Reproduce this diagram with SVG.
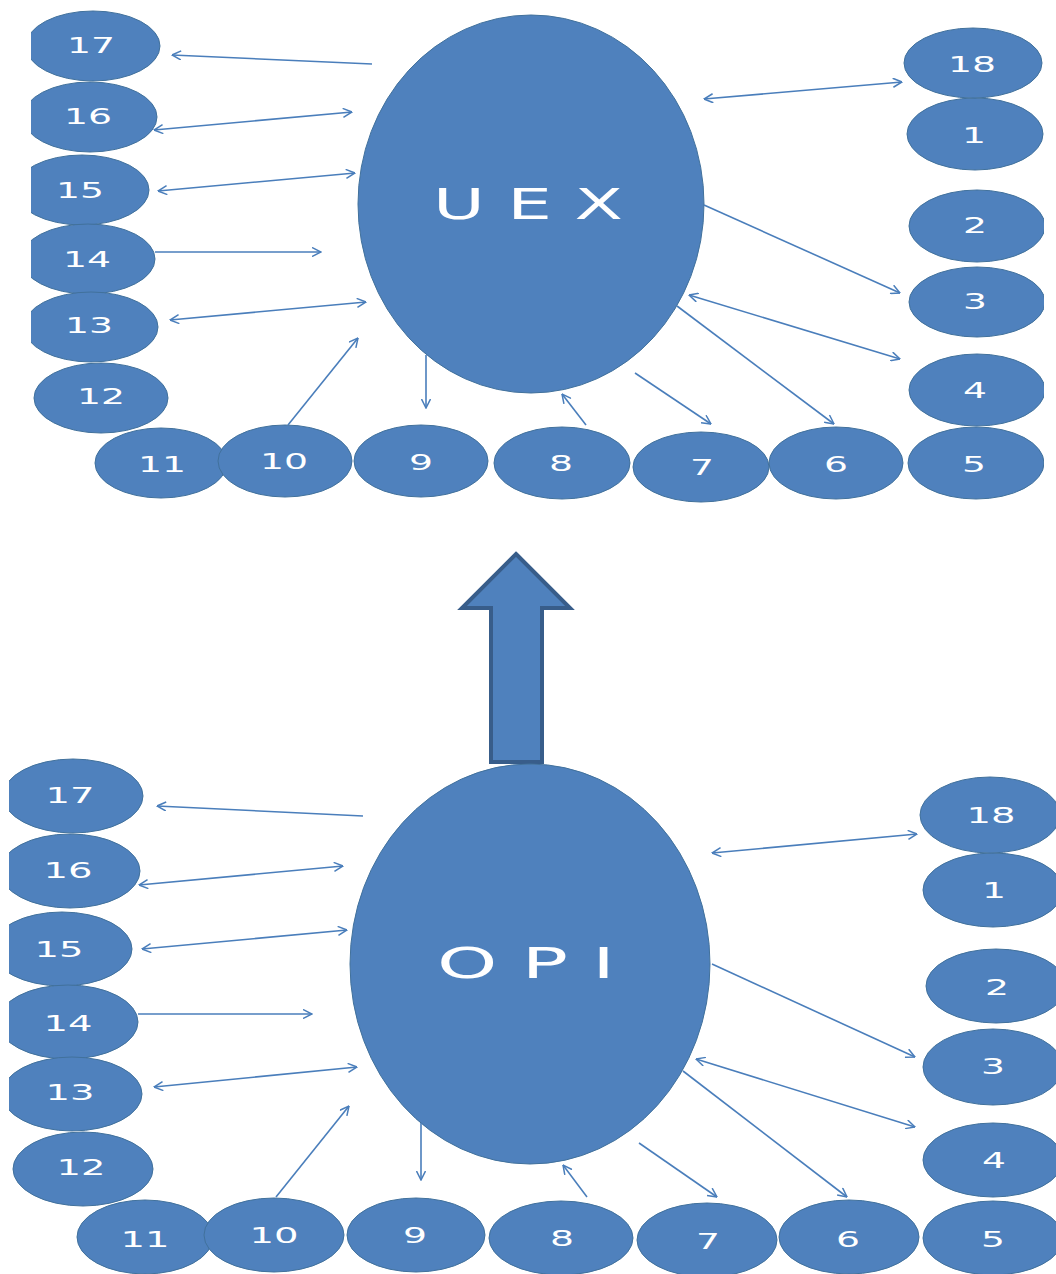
<svg xmlns="http://www.w3.org/2000/svg" width="1056" height="1274" viewBox="0 0 1056 1274">
<style>
.n { fill: #4f81bd; stroke: #41719c; stroke-width: 1; }
.lbl { font-family: "DejaVu Sans", Verdana, sans-serif; font-size: 21px; fill: #ffffff; text-anchor: middle; }
.big { font-family: "DejaVu Sans", Verdana, sans-serif; font-size: 42px; fill: #ffffff; text-anchor: middle; }
.c { fill: none; stroke: #4a7ebb; stroke-width: 1.6; }
.ce { marker-end: url(#ah); }
.cb { marker-start: url(#ah); marker-end: url(#ah); }
</style>
<defs>
<marker id="ah" viewBox="0 0 10 10" refX="9.5" refY="5" markerWidth="10" markerHeight="10" markerUnits="userSpaceOnUse" orient="auto-start-reverse">
<path d="M0.5,0.5 L9.5,5 L0.5,9.5" fill="none" stroke="#4a7ebb" stroke-width="1.5"/>
</marker>
<clipPath id="clipTop"><rect x="31" y="0" width="1013" height="530"/></clipPath>
<clipPath id="clipBot"><rect x="9" y="530" width="1047" height="744"/></clipPath>
</defs>
<rect x="0" y="0" width="1056" height="1274" fill="#ffffff"/>

<g id="top-diagram" clip-path="url(#clipTop)">
<g id="uex"><ellipse class="n" cx="531" cy="204" rx="173" ry="189"/><text class="big" x="528" y="219" textLength="190" lengthAdjust="spacingAndGlyphs">U E X</text></g>
<g id="t17"><ellipse class="n" cx="93" cy="46" rx="67" ry="35"/><text class="lbl" x="91" y="53" textLength="48" lengthAdjust="spacingAndGlyphs">17</text></g>
<g id="t16"><ellipse class="n" cx="90" cy="117" rx="67" ry="35"/><text class="lbl" x="88" y="124" textLength="48" lengthAdjust="spacingAndGlyphs">16</text></g>
<g id="t15"><ellipse class="n" cx="82" cy="190" rx="67" ry="35"/><text class="lbl" x="80" y="198" textLength="48" lengthAdjust="spacingAndGlyphs">15</text></g>
<g id="t14"><ellipse class="n" cx="88" cy="259" rx="67" ry="35"/><text class="lbl" x="87" y="267" textLength="48" lengthAdjust="spacingAndGlyphs">14</text></g>
<g id="t13"><ellipse class="n" cx="91" cy="327" rx="67" ry="35"/><text class="lbl" x="89" y="333" textLength="48" lengthAdjust="spacingAndGlyphs">13</text></g>
<g id="t12"><ellipse class="n" cx="101" cy="398" rx="67" ry="35"/><text class="lbl" x="101" y="404" textLength="48" lengthAdjust="spacingAndGlyphs">12</text></g>
<g id="t11"><ellipse class="n" cx="161" cy="463" rx="66" ry="35"/><text class="lbl" x="162" y="472" textLength="48" lengthAdjust="spacingAndGlyphs">11</text></g>
<g id="t10"><ellipse class="n" cx="285" cy="461" rx="67" ry="36"/><text class="lbl" x="284" y="469" textLength="48" lengthAdjust="spacingAndGlyphs">10</text></g>
<g id="t9"><ellipse class="n" cx="421" cy="461" rx="67" ry="36"/><text class="lbl" x="421" y="470" textLength="24" lengthAdjust="spacingAndGlyphs">9</text></g>
<g id="t8"><ellipse class="n" cx="562" cy="463" rx="68" ry="36"/><text class="lbl" x="561" y="471" textLength="24" lengthAdjust="spacingAndGlyphs">8</text></g>
<g id="t7"><ellipse class="n" cx="701" cy="467" rx="68" ry="35"/><text class="lbl" x="702" y="475" textLength="24" lengthAdjust="spacingAndGlyphs">7</text></g>
<g id="t6"><ellipse class="n" cx="836" cy="463" rx="67" ry="36"/><text class="lbl" x="836" y="472" textLength="24" lengthAdjust="spacingAndGlyphs">6</text></g>
<g id="t5"><ellipse class="n" cx="976" cy="463" rx="68" ry="36"/><text class="lbl" x="974" y="472" textLength="24" lengthAdjust="spacingAndGlyphs">5</text></g>
<g id="t4"><ellipse class="n" cx="977" cy="390" rx="68" ry="36"/><text class="lbl" x="975" y="398" textLength="24" lengthAdjust="spacingAndGlyphs">4</text></g>
<g id="t3"><ellipse class="n" cx="977" cy="302" rx="68" ry="35"/><text class="lbl" x="975" y="309" textLength="24" lengthAdjust="spacingAndGlyphs">3</text></g>
<g id="t2"><ellipse class="n" cx="977" cy="226" rx="68" ry="36"/><text class="lbl" x="975" y="233" textLength="24" lengthAdjust="spacingAndGlyphs">2</text></g>
<g id="t1"><ellipse class="n" cx="975" cy="134" rx="68" ry="36"/><text class="lbl" x="974" y="143" textLength="24" lengthAdjust="spacingAndGlyphs">1</text></g>
<g id="t18"><ellipse class="n" cx="973" cy="63" rx="69" ry="35"/><text class="lbl" x="972" y="72" textLength="48" lengthAdjust="spacingAndGlyphs">18</text></g>
<g id="top-connectors">
<line class="c ce" x1="372" y1="64" x2="172" y2="55"/>
<line class="c cb" x1="154" y1="130" x2="352" y2="112"/>
<line class="c cb" x1="158" y1="191" x2="355" y2="173"/>
<line class="c ce" x1="155" y1="252" x2="321" y2="252"/>
<line class="c cb" x1="170" y1="320" x2="366" y2="302"/>
<line class="c ce" x1="288" y1="425" x2="358" y2="338"/>
<line class="c ce" x1="426" y1="355" x2="426" y2="408"/>
<line class="c ce" x1="586" y1="425" x2="562" y2="394"/>
<line class="c ce" x1="635" y1="373" x2="711" y2="424"/>
<line class="c ce" x1="677" y1="306" x2="834" y2="424"/>
<line class="c cb" x1="689" y1="295" x2="900" y2="359"/>
<line class="c ce" x1="704" y1="205" x2="900" y2="293"/>
<line class="c cb" x1="704" y1="99" x2="902" y2="82"/>
</g>
</g>

<g id="big-arrow"><polygon points="516,554 570,608 542,608 542,762 491,762 491,608 462,608" fill="#4f81bd" stroke="#385d8a" stroke-width="4" stroke-linejoin="miter"/></g>

<g id="bottom-diagram" clip-path="url(#clipBot)">
<g id="opi"><ellipse class="n" cx="530" cy="964" rx="180" ry="200"/><text class="big" x="526" y="978" textLength="178" lengthAdjust="spacingAndGlyphs">O P I</text></g>
<g id="b17"><ellipse class="n" cx="73" cy="796" rx="70" ry="37"/><text class="lbl" x="70" y="803" textLength="49" lengthAdjust="spacingAndGlyphs">17</text></g>
<g id="b16"><ellipse class="n" cx="70" cy="871" rx="70" ry="37"/><text class="lbl" x="68" y="878" textLength="49" lengthAdjust="spacingAndGlyphs">16</text></g>
<g id="b15"><ellipse class="n" cx="62" cy="949" rx="70" ry="37"/><text class="lbl" x="59" y="957" textLength="49" lengthAdjust="spacingAndGlyphs">15</text></g>
<g id="b14"><ellipse class="n" cx="68" cy="1022" rx="70" ry="37"/><text class="lbl" x="68" y="1031" textLength="49" lengthAdjust="spacingAndGlyphs">14</text></g>
<g id="b13"><ellipse class="n" cx="72" cy="1094" rx="70" ry="37"/><text class="lbl" x="70" y="1100" textLength="49" lengthAdjust="spacingAndGlyphs">13</text></g>
<g id="b12"><ellipse class="n" cx="83" cy="1169" rx="70" ry="37"/><text class="lbl" x="81" y="1175" textLength="49" lengthAdjust="spacingAndGlyphs">12</text></g>
<g id="b11"><ellipse class="n" cx="145" cy="1237" rx="68" ry="37"/><text class="lbl" x="145" y="1247" textLength="49" lengthAdjust="spacingAndGlyphs">11</text></g>
<g id="b10"><ellipse class="n" cx="274" cy="1235" rx="70" ry="37"/><text class="lbl" x="274" y="1243" textLength="49" lengthAdjust="spacingAndGlyphs">10</text></g>
<g id="b9"><ellipse class="n" cx="416" cy="1235" rx="69" ry="37"/><text class="lbl" x="415" y="1243" textLength="24" lengthAdjust="spacingAndGlyphs">9</text></g>
<g id="b8"><ellipse class="n" cx="561" cy="1238" rx="72" ry="37"/><text class="lbl" x="562" y="1246" textLength="24" lengthAdjust="spacingAndGlyphs">8</text></g>
<g id="b7"><ellipse class="n" cx="707" cy="1240" rx="70" ry="37"/><text class="lbl" x="708" y="1249" textLength="24" lengthAdjust="spacingAndGlyphs">7</text></g>
<g id="b6"><ellipse class="n" cx="849" cy="1237" rx="70" ry="37"/><text class="lbl" x="848" y="1247" textLength="24" lengthAdjust="spacingAndGlyphs">6</text></g>
<g id="b5"><ellipse class="n" cx="993" cy="1238" rx="70" ry="37"/><text class="lbl" x="993" y="1247" textLength="24" lengthAdjust="spacingAndGlyphs">5</text></g>
<g id="b4"><ellipse class="n" cx="993" cy="1160" rx="70" ry="37"/><text class="lbl" x="994" y="1168" textLength="24" lengthAdjust="spacingAndGlyphs">4</text></g>
<g id="b3"><ellipse class="n" cx="993" cy="1067" rx="70" ry="38"/><text class="lbl" x="993" y="1074" textLength="24" lengthAdjust="spacingAndGlyphs">3</text></g>
<g id="b2"><ellipse class="n" cx="996" cy="986" rx="70" ry="37"/><text class="lbl" x="997" y="995" textLength="24" lengthAdjust="spacingAndGlyphs">2</text></g>
<g id="b1"><ellipse class="n" cx="993" cy="890" rx="70" ry="37"/><text class="lbl" x="994" y="898" textLength="24" lengthAdjust="spacingAndGlyphs">1</text></g>
<g id="b18"><ellipse class="n" cx="990" cy="815" rx="70" ry="38"/><text class="lbl" x="991" y="823" textLength="49" lengthAdjust="spacingAndGlyphs">18</text></g>
<g id="bottom-connectors">
<line class="c ce" x1="363" y1="816" x2="157" y2="806"/>
<line class="c cb" x1="139" y1="885" x2="343" y2="866"/>
<line class="c cb" x1="142" y1="949" x2="347" y2="930"/>
<line class="c ce" x1="138" y1="1014" x2="312" y2="1014"/>
<line class="c cb" x1="154" y1="1087" x2="357" y2="1067"/>
<line class="c ce" x1="276" y1="1197" x2="349" y2="1106"/>
<line class="c ce" x1="421" y1="1123" x2="421" y2="1180"/>
<line class="c ce" x1="587" y1="1197" x2="563" y2="1165"/>
<line class="c ce" x1="639" y1="1143" x2="717" y2="1197"/>
<line class="c ce" x1="683" y1="1071" x2="847" y2="1197"/>
<line class="c cb" x1="696" y1="1059" x2="915" y2="1127"/>
<line class="c ce" x1="712" y1="964" x2="915" y2="1057"/>
<line class="c cb" x1="712" y1="853" x2="917" y2="834"/>
</g>
</g>
</svg>
